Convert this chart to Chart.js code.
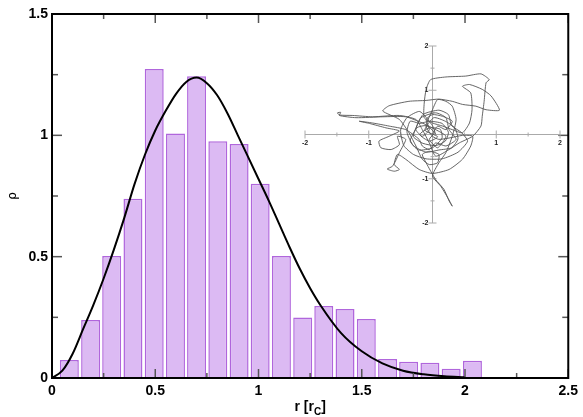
<!DOCTYPE html>
<html>
<head>
<meta charset="utf-8">
<script src="https://cdn.jsdelivr.net/npm/chart.js@4.4.1/dist/chart.umd.min.js"></script>
<style>
  html, body { margin: 0; padding: 0; background: #fff; }
  #wrap { position: relative; width: 583px; height: 417px; }
  #main { position: absolute; left: 0; top: 0; }
  #inset { position: absolute; left: 295px; top: 36px; }
</style>
</head>
<body>
<div id="wrap">
  <canvas id="main" width="583" height="417"></canvas>
  <canvas id="inset" width="275" height="197"></canvas>
</div>
<script>
// histogram bins (centre of each bin) and heights
var binCentres = [0.084, 0.187, 0.289, 0.392, 0.495, 0.598, 0.700, 0.803, 0.906, 1.008,
                  1.111, 1.214, 1.316, 1.419, 1.522, 1.625, 1.727, 1.830, 1.933, 2.036];
var binHeights = [0.074, 0.239, 0.503, 0.739, 1.273, 1.008, 1.243, 0.976, 0.964, 0.800,
                  0.503, 0.249, 0.297, 0.284, 0.243, 0.078, 0.067, 0.063, 0.038, 0.071];

// fitted curve
var curveR   = [0, 0.05, 0.1, 0.15, 0.2, 0.25, 0.3, 0.35, 0.4, 0.45, 0.5, 0.55, 0.6, 0.65, 0.7, 0.75,
                0.8, 0.85, 0.9, 0.95, 1.0, 1.05, 1.1, 1.15, 1.2, 1.25, 1.3, 1.4, 1.5, 1.6, 1.7, 1.8, 1.9, 2.0];
var curveRho = [0, 0.03, 0.10, 0.20, 0.30, 0.41, 0.53, 0.66, 0.80, 0.92, 1.02, 1.10, 1.17, 1.22, 1.238, 1.215,
                1.165, 1.09, 1.00, 0.91, 0.82, 0.73, 0.635, 0.54, 0.45, 0.37, 0.30, 0.185, 0.11, 0.06, 0.03, 0.015, 0.007, 0.003];

var xTicks = [0, 0.5, 1, 1.5, 2, 2.5];
var xTickLabels = ['0', '0.5', '1', '1.5', '2', '2.5'];
var xMinor = [0.25, 0.75, 1.25, 1.75, 2.25];
var yTicks = [0, 0.5, 1, 1.5];
var yTickLabels = ['0', '0.5', '1', '1.5'];
var yMinor = [0.25, 0.75, 1.25];

// inset: trajectory
var trajX = [0, 0.08, 0.21, 0.31, 0.16, 0, -0.10, -0.05, -0.16, -0.26, -0.18, 0.05, 0.21, 0.26, 0.37, 0.21, 0.05, -0.05, -0.16, -0.21,
  -0.42, -0.68, -0.94, -1.15, -0.99, -0.73, -0.52, -0.68, -0.84, -0.81, -0.65, -0.52, -0.55, -0.42, -0.52, -0.58, -0.63, -0.71, -0.60, -0.52,
  -0.60, -0.55, -0.42, -0.21, 0, 0.26, 0.47, 0.60, 0.63, 0.47, 0.26, 0.10, 0, -0.10, 0, 0.08, 0.21, 0.31, 0.37, 0.31,
  0.21, 0.10, 0, 0.13, 0.24, 0.31, 0.26, 0.18, 0.05, -0.10, -0.16, -0.05, 0.10, 0.08, -0.05, -0.16, -0.26, -0.37, -0.52, -0.78,
  -0.68, -0.37, -0.10, 0.10, 0.31, 0.47, 0.68, 0.84, 1.05, 0.92, 0.78, 0.58, 0.47, 0.60, 0.62, 0.58, 0.47, 0.31, 0.16, 0,
  -0.13, -0.13, -0.10, -0.03, 0.21, 0.52, 0.76, 0.89, 0.84, 0.81, 0.78, 0.76, 0.63, 0.42, 0.26, 0.05, -0.05, -0.16, -0.26, -0.52,
  -0.94, -1.25, -1.46, -1.49, -1.44, -1.46, -1.20, -0.78, -0.42, -0.16, 0.05, 0.21, 0.08, -0.05, 0.03,
  -0.10, -0.25, -0.30, -0.15, 0.05, 0.20, 0.25, 0.15, -0.05, -0.20, -0.35, -0.40, -0.30, -0.10, 0.10, 0.30, 0.40, 0.35, 0.20, 0.02,
  -0.12, 0.08, -0.05, -0.20, -0.05, 0.12, 0.15, 0.00, -0.22, -0.35, -0.28, -0.15, 0.10, 0.25, 0.30, 0.45, 0.55, 0.40, 0.15, -0.10,
  -0.30, -0.45, -0.50, -0.40, -0.20, 0.00, 0.05];
var trajY = [0, 0.19, 0.11, 0.30, 0.41, 0.45, 0.34, 0.11, -0.04, 0.11, 0.38, 0.49, 0.38, 0.11, -0.11, -0.26, -0.19, -0.34, -0.26, -0.11,
  0.11, 0.19, 0.26, 0.30, 0.25, 0.15, 0.08, -0.04, -0.15, -0.30, -0.34, -0.23, -0.04, -0.11, -0.41, -0.60, -0.72, -0.78, -0.83, -0.79,
  -0.68, -0.45, -0.56, -0.79, -0.88, -0.79, -0.56, -0.26, -0.04, -0.02, -0.08, -0.11, -0.04, 0.19, 0.56, 0.79, 0.75, 0.64, 0.34, -0.04,
  -0.41, -0.64, -0.94, -1.17, -1.43, -1.62, -1.50, -1.24, -1.02, -0.64, -0.45, -0.38, -0.45, -0.64, -0.68, -0.56, -0.26, 0.04, 0.34, 0.53,
  0.65, 0.75, 0.77, 0.80, 0.75, 0.68, 0.64, 0.56, 0.55, 0.87, 1.02, 1.13, 1.09, 0.94, 0.56, 0.26, 0.04, 0.11, 0.19, 0.26,
  0.38, 0.71, 1.02, 1.24, 1.30, 1.32, 1.37, 1.24, 1.17, 0.75, 0.41, 0.19, -0.04, -0.19, -0.34, -0.49, -0.19, 0.11, 0.34, 0.43,
  0.40, 0.43, 0.44, 0.49, 0.50, 0.43, 0.38, 0.40, 0.40, 0.26, 0.11, -0.04, -0.30, -0.11, 0.04,
  0.20, 0.15, -0.05, -0.20, -0.25, -0.15, 0.05, 0.25, 0.30, 0.25, 0.30, 0.05, -0.25, -0.40, -0.35, -0.30, -0.10, 0.15, 0.30, 0.38,
  0.10, -0.05, -0.15, 0.00, 0.15, 0.12, -0.08, -0.30, -0.35, -0.15, 0.08, 0.45, 0.55, 0.45, 0.20, 0.05, -0.15, -0.40, -0.55, -0.55,
  -0.45, -0.25, 0.10, 0.38, 0.52, 0.20, 0.00];
var insetTicks = [-2, -1, 1, 2];
var insetTickLabels = ['-2', '-1', '1', '2'];
var insetMinor = [-1.5, -0.5, 0.5, 1.5];

var tickFont = { family: 'Liberation Sans, Arial, sans-serif', size: 14, weight: 'bold' };

var framePlugin = {
  id: 'frame',
  afterDatasetsDraw: function (chart) {
    var ctx = chart.ctx, a = chart.chartArea, x = chart.scales.x, y = chart.scales.y;
    function seg(x1, y1, x2, y2) { ctx.beginPath(); ctx.moveTo(x1, y1); ctx.lineTo(x2, y2); ctx.stroke(); }
    ctx.save();
    ctx.strokeStyle = '#555';
    ctx.lineWidth = 1.5;
    xTicks.forEach(function (v) { var p = x.getPixelForValue(v); seg(p, a.bottom, p, a.bottom - 9); seg(p, a.top, p, a.top + 9); });
    xMinor.forEach(function (v) { var p = x.getPixelForValue(v); seg(p, a.bottom, p, a.bottom - 5); seg(p, a.top, p, a.top + 5); });
    yTicks.forEach(function (v) { var p = y.getPixelForValue(v); seg(a.left, p, a.left + 10, p); seg(a.right, p, a.right - 10, p); });
    yMinor.forEach(function (v) { var p = y.getPixelForValue(v); seg(a.left, p, a.left + 6, p); seg(a.right, p, a.right - 6, p); });
    ctx.strokeStyle = '#000';
    ctx.lineWidth = 2;
    ctx.strokeRect(a.left, a.top, a.right - a.left, a.bottom - a.top);

    // x axis title: r [r_C]
    var cx = (a.left + a.right) / 2, by = 411;
    ctx.fillStyle = '#000';
    ctx.textBaseline = 'alphabetic';
    var t1 = 'r [r', t3 = ']';
    ctx.font = 'bold 10px Liberation Sans, Arial, sans-serif';
    var wSub = ctx.measureText('C').width;
    ctx.font = 'bold 14px Liberation Sans, Arial, sans-serif';
    var w1 = ctx.measureText(t1).width, w3 = ctx.measureText(t3).width;
    var sx = cx - (w1 + wSub + w3) / 2;
    ctx.textAlign = 'left';
    ctx.fillText(t1, sx, by);
    ctx.font = 'bold 10px Liberation Sans, Arial, sans-serif';
    ctx.fillText('C', sx + w1, by + 4);
    ctx.font = 'bold 14px Liberation Sans, Arial, sans-serif';
    ctx.fillText(t3, sx + w1 + wSub, by);
    ctx.restore();
  }
};

new Chart(document.getElementById('main').getContext('2d'), {
  type: 'bar',
  data: {
    datasets: [{
      type: 'line',
      data: curveR.map(function (r, i) { return { x: r, y: curveRho[i] }; }),
      borderColor: '#000',
      borderWidth: 2,
      pointRadius: 0,
      cubicInterpolationMode: 'monotone',
      order: 0
    }, {
      type: 'bar',
      data: binCentres.map(function (r, i) { return { x: r, y: binHeights[i] }; }),
      backgroundColor: '#dcbaf3',
      borderColor: '#b066dc',
      borderWidth: 1.5,
      barPercentage: 0.9,
      categoryPercentage: 1.0,
      order: 1
    }]
  },
  options: {
    responsive: false,
    animation: false,
    layout: { padding: { top: 14, right: 10, left: 0, bottom: 0 } },
    plugins: { legend: { display: false }, tooltip: { enabled: false } },
    scales: {
      x: {
        type: 'linear', min: 0, max: 2.5, offset: false,
        grid: { display: false, drawTicks: false },
        border: { display: false },
        afterBuildTicks: function (s) { s.ticks = xTicks.map(function (v) { return { value: v }; }); },
        afterFit: function (s) { s.height = 39; },
        ticks: {
          padding: 5, color: '#000', font: tickFont, maxRotation: 0,
          callback: function (v, i) { return xTickLabels[i]; }
        }
      },
      y: {
        type: 'linear', min: 0, max: 1.5,
        grid: { display: false, drawTicks: false },
        border: { display: false },
        afterBuildTicks: function (s) { s.ticks = yTicks.map(function (v) { return { value: v }; }); },
        afterFit: function (s) { s.width = 52; },
        ticks: {
          padding: 4, color: '#000', font: tickFont,
          callback: function (v, i) { return yTickLabels[i]; }
        },
        title: {
          display: true, text: 'ρ', color: '#000',
          font: { family: 'DejaVu Sans, sans-serif', size: 12 },
          padding: { top: 6, bottom: 0 }
        }
      }
    }
  },
  plugins: [framePlugin]
});

var insetAxesPlugin = {
  id: 'insetAxes',
  beforeDatasetsDraw: function (chart) {
    var ctx = chart.ctx, x = chart.scales.x, y = chart.scales.y;
    function seg(x1, y1, x2, y2) { ctx.beginPath(); ctx.moveTo(x1, y1); ctx.lineTo(x2, y2); ctx.stroke(); }
    var x0 = x.getPixelForValue(0), y0 = y.getPixelForValue(0);
    ctx.save();
    ctx.strokeStyle = '#aaa';
    ctx.lineWidth = 1;
    seg(x.getPixelForValue(-2), y0, x.getPixelForValue(2), y0);
    seg(x0, y.getPixelForValue(-2), x0, y.getPixelForValue(2));
    insetTicks.forEach(function (v) {
      var px = x.getPixelForValue(v), py = y.getPixelForValue(v);
      seg(px, y0 - 4, px, y0 + 4);
      seg(x0 - 4, py, x0 + 4, py);
    });
    insetMinor.forEach(function (v) {
      var px = x.getPixelForValue(v), py = y.getPixelForValue(v);
      seg(px, y0 - 2, px, y0 + 2);
      seg(x0 - 2, py, x0 + 2, py);
    });
    ctx.fillStyle = '#222';
    ctx.font = 'bold 7px Liberation Sans, Arial, sans-serif';
    ctx.textAlign = 'center';
    ctx.textBaseline = 'top';
    insetTicks.forEach(function (v, i) { ctx.fillText(insetTickLabels[i], x.getPixelForValue(v), y0 + 5); });
    ctx.textAlign = 'right';
    ctx.textBaseline = 'middle';
    insetTicks.forEach(function (v, i) { ctx.fillText(insetTickLabels[i], x0 - 4, y.getPixelForValue(v)); });
    ctx.restore();
  }
};

new Chart(document.getElementById('inset').getContext('2d'), {
  type: 'scatter',
  data: {
    datasets: [{
      data: trajX.map(function (v, i) { return { x: v, y: trajY[i] }; }),
      showLine: true,
      borderColor: '#555',
      borderWidth: 0.9,
      pointRadius: 0,
      tension: 0.2
    }]
  },
  options: {
    responsive: false,
    animation: false,
    layout: { padding: 10 },
    plugins: { legend: { display: false }, tooltip: { enabled: false } },
    scales: {
      x: { type: 'linear', min: -2, max: 2, display: false },
      y: { type: 'linear', min: -2, max: 2, display: false }
    }
  },
  plugins: [insetAxesPlugin]
});
</script>
</body>
</html>
